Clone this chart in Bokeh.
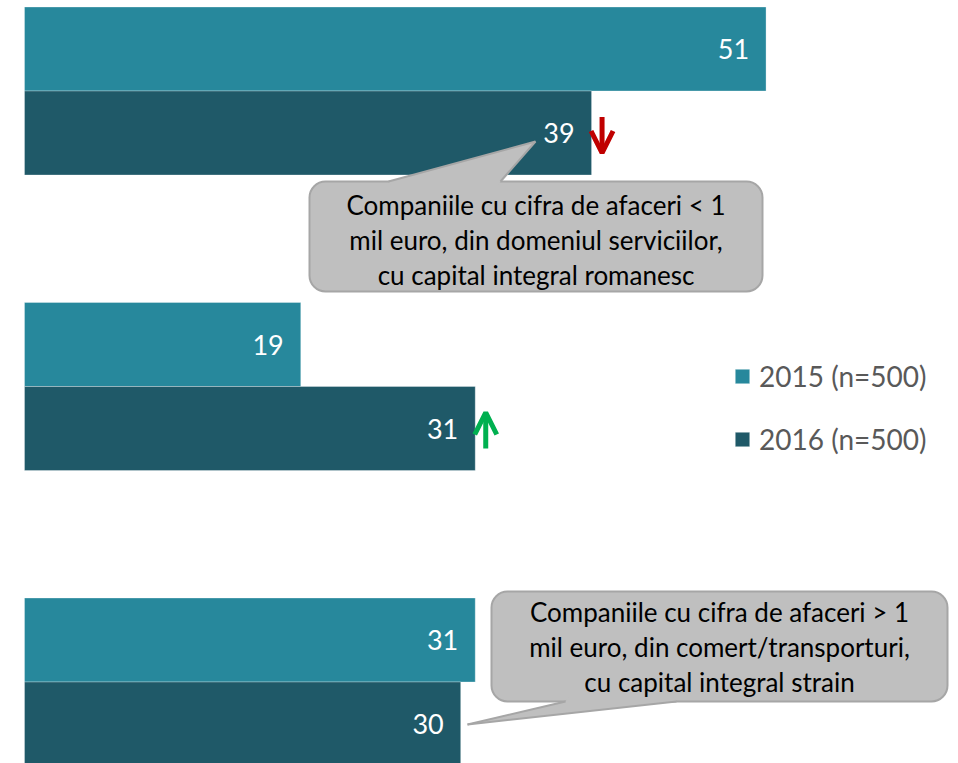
from bokeh.plotting import figure
from bokeh.models import ColumnDataSource, Range1d, Arrow, OpenHead, Legend, LegendItem
from bokeh.embed import file_html
from bokeh.resources import INLINE
from bokeh.core.properties import value

# ---------------- data ----------------
segments = ["Segment 1", "Segment 2", "Segment 3"]
series_labels = ["2015 (n=500)", "2016 (n=500)"]
values_2015 = [51, 19, 31]
values_2016 = [39, 31, 30]
change_2016 = ["down", "up", None]
callout_1 = ["Companiile cu cifra de afaceri < 1",
             "mil euro, din domeniul serviciilor,",
             "cu capital integral romanesc"]
callout_2 = ["Companiile cu cifra de afaceri > 1",
             "mil euro, din comert/transporturi,",
             "cu capital integral strain"]

# ---------------- layout helpers ----------------
W, H = 958, 763
OFF = 0
PX_PER_UNIT = 14.54
GROUP_PX = 295.5
X0_PAGE = 24.0
Y0_PAGE = 90.5

def dx(px):
    return px / PX_PER_UNIT

def dy(px):
    return px / GROUP_PX

def X(page_x):
    return (page_x - X0_PAGE) / PX_PER_UNIT

def Y(page_y):
    return (page_y - Y0_PAGE) / GROUP_PX

C15 = "#27889C"
C16 = "#1F5968"
FONT = "Lato"

p = figure(width=W, height=H, output_backend="svg", toolbar_location=None,
           x_range=Range1d(X(OFF), X(OFF + W)),
           y_range=Range1d(Y(OFF + H), Y(OFF)),
           min_border=0, min_border_left=0, min_border_right=0,
           min_border_top=0, min_border_bottom=0)
p.axis.visible = False
p.grid.visible = False
p.outline_line_color = None
p.background_fill_color = "white"
p.border_fill_color = "white"

ypos = list(range(len(segments)))
bar_h = dy(84)
half = dy(42)

src15 = ColumnDataSource(dict(y=[i - half for i in ypos], v=values_2015,
                              lab=[str(v) for v in values_2015]))
src16 = ColumnDataSource(dict(y=[i + half for i in ypos], v=values_2016,
                              lab=[str(v) for v in values_2016]))

r15 = p.hbar(y="y", left=0, right="v", height=bar_h, source=src15,
             fill_color=C15, line_color="white", line_alpha=0.3, line_width=1)
r16 = p.hbar(y="y", left=0, right="v", height=bar_h, source=src16,
             fill_color=C16, line_color="white", line_alpha=0.3, line_width=1)

for src in (src15, src16):
    p.text(x="v", y="y", text="lab", source=src, x_offset=-17,
           text_align="right", text_baseline="middle", text_color="white",
           text_font=value(FONT), text_font_size="27px")

# change arrows
for i, ch in enumerate(change_2016):
    if ch is None:
        continue
    col = "#C00000" if ch == "down" else "#00B050"
    xa = values_2016[i] + dx(10.5)
    yc = i + half
    top, bot = yc - dy(16), yc + dy(20)
    ys, ye = (top, bot) if ch == "down" else (bot, top)
    p.add_layout(Arrow(end=OpenHead(size=22, line_color=col, line_width=5),
                       x_start=xa, y_start=ys, x_end=xa, y_end=ye,
                       line_color=col, line_width=5))

# callouts
FILL = "#BFBFBF"
EDGE = "#A6A6A6"

def callout(box, tip, b1, b2, inward, lines, text_dy):
    l, r, t, b = box
    p.quad(left=X(l), right=X(r), top=Y(t), bottom=Y(b), fill_color=FILL,
           line_color=EDGE, line_width=2, border_radius=16)
    xs = [X(tip[0]), X(b1[0]), X(b1[0] + 3), X(b2[0] - 3), X(b2[0])]
    ys = [Y(tip[1]), Y(b1[1]), Y(b1[1] + inward), Y(b2[1] + inward), Y(b2[1])]
    p.patch(xs, ys, fill_color=FILL, line_color=None)
    p.multi_line(xs=[[X(tip[0]), X(b1[0])], [X(tip[0]), X(b2[0])]],
                 ys=[[Y(tip[1]), Y(b1[1])], [Y(tip[1]), Y(b2[1])]],
                 line_color=EDGE, line_width=2)
    cx = X((l + r) / 2)
    cy = (t + b) / 2 + text_dy
    p.text(x=[cx] * len(lines),
           y=[Y(cy + (k - 1) * 35) for k in range(len(lines))],
           text=lines, text_align="center", text_baseline="middle",
           text_color="#000000", text_font=value(FONT), text_font_size="26px")

callout((309, 762, 181, 291), (535, 141), (388, 181), (500, 181), 5, callout_1, 3)
callout((491, 947, 591, 701), (467, 724), (565, 701), (676, 701), -5, callout_2, 0)

legend = Legend(items=[LegendItem(label=series_labels[0], renderers=[r15]),
                       LegendItem(label=series_labels[1], renderers=[r16])],
                location=(733, 307), orientation="vertical",
                glyph_width=18, glyph_height=18, label_height=34,
                label_standoff=8, spacing=29, padding=0, margin=0,
                label_text_font=FONT, label_text_font_size="28px",
                label_text_color="#595959",
                border_line_alpha=0, background_fill_alpha=0)
p.add_layout(legend)

open("out.html", "w").write(file_html(p, INLINE))
